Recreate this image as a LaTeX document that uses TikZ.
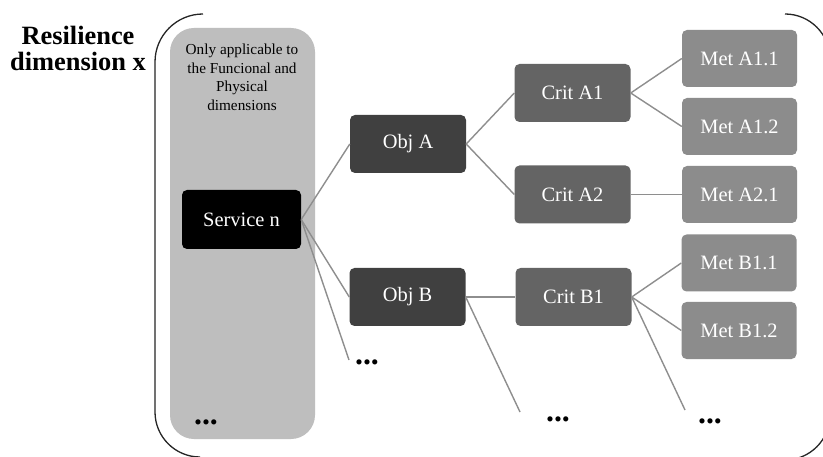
\documentclass[tikz,border=0pt]{standalone}
\usepackage{fontspec}
\setmainfont{Liberation Serif}
\usepackage{tikz}

\definecolor{panelgray}{HTML}{BEBEBE}
\definecolor{objgray}{HTML}{404040}
\definecolor{critgray}{HTML}{646464}
\definecolor{metgray}{HTML}{8C8C8C}
\definecolor{linkgray}{HTML}{8E8E8E}

\begin{document}
\begin{tikzpicture}[x=1bp,y=-1bp,
  box/.style={rounded corners=5bp, inner sep=0pt, text=white,
    font=\fontsize{20.5}{24}\selectfont, minimum width=116bp, minimum height=58bp},
  objbox/.style={box, fill=objgray},
  critbox/.style={box, fill=critgray},
  metbox/.style={box, fill=metgray, minimum width=115bp, minimum height=57bp},
  link/.style={linkgray, line width=1.4bp},
  dots/.style={anchor=base, inner sep=0pt, font=\fontsize{32}{32}\bfseries}]
\useasboundingbox (0,0) rectangle (823,457);
\clip (0,0) rectangle (823,457);
\fill[white] (0,0) rectangle (823,457);

\draw[black!85, line width=1.3bp] (203,14) .. controls (176.5,14) and (155,35.5) .. (155,62) -- (155,412) .. controls (155,436.8) and (175.2,457) .. (200,457);
\draw[black!85, line width=1.3bp] (785,14) .. controls (809.8,14) and (830,34.2) .. (830,59) -- (830,415) .. controls (830,439.8) and (809.8,460) .. (785,460);

\node[inner sep=0pt, anchor=north, align=center, font=\fontsize{26.5}{26}\bfseries] (title) at (78,26) {Resilience\\dimension x};

\node[fill=panelgray, rounded corners=24bp, inner sep=0pt, minimum width=145bp, minimum height=411bp] (panel) at (242.5,233.5) {};
\node[inner sep=0pt, anchor=north, align=center, font=\fontsize{15.3}{18.5}\selectfont] (note) at (242,44) {Only applicable to\\the Funcional and\\Physical\\dimensions};

\node[box, fill=black, minimum width=119bp, minimum height=59bp] (serv) at (241.5,219.5) {Service n};

\node[objbox] (objA) at (408,144) {Obj A};
\node[objbox] (objB) at (407.5,297) {Obj B};

\node[critbox] (critA1) at (572.5,93) {Crit A1};
\node[critbox] (critA2) at (572.5,194.5) {Crit A2};
\node[critbox] (critB1) at (573.5,297) {Crit B1};

\node[metbox] (metA11) at (739.5,58.5) {Met A1.1};
\node[metbox] (metA12) at (739.5,126.5) {Met A1.2};
\node[metbox] (metA21) at (739.5,194.5) {Met A2.1};
\node[metbox] (metB11) at (739,263) {Met B1.1};
\node[metbox] (metB12) at (739,330.5) {Met B1.2};

\node[dots] (dotsP) at (206,424) {...};
\node[dots] (dotsS) at (367,365) {...};
\node[dots] (dotsO) at (558,421) {...};
\node[dots] (dotsC) at (710,423) {...};

\coordinate (servEnd) at (349,360);
\coordinate (objEnd) at (520,412);
\coordinate (critEnd) at (685,410);

\draw[link] (serv.east) -- (objA.west);
\draw[link] (serv.east) -- (objB.west);
\draw[link] (serv.east) -- (servEnd);
\draw[link] (objA.east) -- (critA1.west);
\draw[link] (objA.east) -- (critA2.west);
\draw[link] (objB.east) -- (critB1.west);
\draw[link] (objB.east) -- (objEnd);
\draw[link] (critA1.east) -- (metA11.west);
\draw[link] (critA1.east) -- (metA12.west);
\draw[link] (critA2.east) -- (metA21.west);
\draw[link] (critB1.east) -- (metB11.west);
\draw[link] (critB1.east) -- (metB12.west);
\draw[link] (critB1.east) -- (critEnd);
\end{tikzpicture}
\end{document}
